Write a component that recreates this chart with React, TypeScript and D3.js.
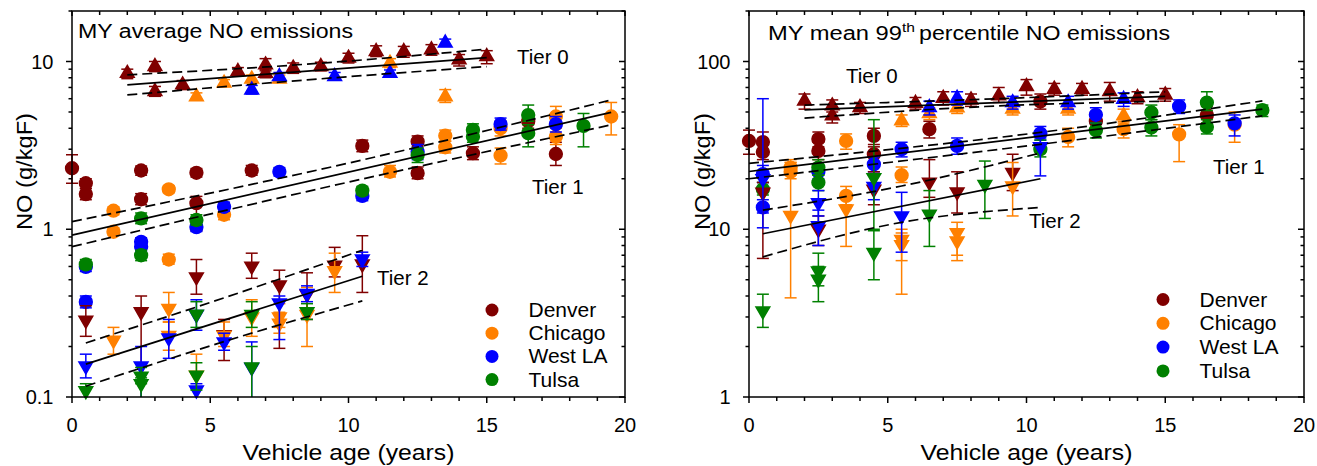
import * as d3 from "d3";

// [age, value, lower error, upper error]
type Pt = [number, number, number, number];
type Fit = { ages: number[]; fit: number[]; lo: number[]; hi: number[] };

const cities = ["Denver", "Chicago", "West LA", "Tulsa"];
const cityColors = ["#800000", "#ff8000", "#0000ff", "#008000"];
const ageTicks = [0, 5, 10, 15, 20];

// ---- MY average NO emissions (g/kgF) ----
const avgTier0: Pt[][] = [
  [
    [2, 8.5, 7.9, 9.0], [3, 9.33, 8.7, 10.0], [3, 6.62, 6.2, 7.1], [4, 7.26, 6.8, 7.7],
    [6, 8.72, 8.2, 9.2], [7, 9.55, 8.8, 10.4], [7, 8.5, 8.0, 9.0], [8, 9.13, 8.5, 9.8],
    [9, 9.33, 8.8, 9.9], [10, 10.47, 9.8, 11.2], [11, 11.47, 10.7, 12.4], [12, 11.47, 10.6, 12.3],
    [13, 11.75, 10.9, 12.6], [14, 10.23, 9.4, 11.0], [15, 10.7, 9.7, 11.6],
  ],
  [
    [4.5, 6.17, 5.9, 6.5], [5.5, 7.43, 7.1, 7.8], [6.5, 7.85, 7.5, 8.3], [7.5, 7.85, 7.5, 8.3],
    [11.5, 9.78, 9.2, 10.4], [13.5, 6.17, 5.7, 6.8],
  ],
  [
    [6.5, 6.77, 6.4, 7.2], [7.5, 8.14, 7.8, 8.6], [9.5, 8.14, 7.8, 8.6], [11.5, 8.5, 8.1, 8.9],
    [13.5, 12.9, 12.3, 13.6],
  ],
  [],
];

const avgTier1: Pt[][] = [
  [
    [0, 2.31, 1.88, 2.78], [0.5, 1.88, 1.75, 2.0], [0.5, 1.62, 1.5, 1.75], [2.5, 2.24, 2.1, 2.38],
    [2.5, 1.51, 1.4, 1.63], [4.5, 2.17, 2.05, 2.3], [4.5, 1.43, 0.98, 1.57], [6.5, 2.24, 2.1, 2.4],
    [10.5, 3.14, 2.9, 3.4], [12.5, 3.33, 3.1, 3.6], [12.5, 2.16, 2.0, 2.35], [14.5, 2.84, 2.6, 3.1],
    [16.5, 4.4, 4.0, 4.8], [17.5, 2.81, 2.4, 3.3],
  ],
  [
    [1.5, 1.29, 1.22, 1.36], [1.5, 0.966, 0.92, 1.02], [3.5, 1.73, 1.65, 1.82], [3.5, 0.66, 0.62, 0.71],
    [5.5, 1.22, 1.14, 1.3], [11.5, 2.2, 2.05, 2.4], [13.5, 3.61, 3.35, 3.9], [13.5, 3.08, 2.85, 3.35],
    [15.5, 4.0, 3.6, 4.4], [15.5, 2.75, 2.45, 3.05], [17.5, 4.7, 4.2, 5.4], [17.5, 3.56, 3.2, 4.0],
    [19.5, 4.7, 3.65, 5.7],
  ],
  [
    [0.5, 0.597, 0.56, 0.64], [0.5, 0.369, 0.34, 0.4], [2.5, 0.842, 0.8, 0.89], [2.5, 0.787, 0.74, 0.83],
    [4.5, 1.03, 0.97, 1.1], [5.5, 1.36, 1.28, 1.45], [7.5, 2.2, 2.08, 2.33], [10.5, 1.58, 1.48, 1.7],
    [12.5, 2.9, 2.6, 3.2], [15.5, 4.23, 3.9, 4.6], [17.5, 4.23, 3.8, 4.7],
  ],
  [
    [0.5, 0.617, 0.58, 0.66], [2.5, 1.16, 1.08, 1.25], [2.5, 0.7, 0.65, 0.75], [4.5, 1.135, 1.06, 1.22],
    [10.5, 1.7, 1.6, 1.8], [12.5, 2.77, 2.5, 3.05], [14.5, 3.91, 3.6, 4.25], [14.5, 3.56, 3.3, 3.85],
    [16.5, 4.79, 4.4, 5.5], [16.5, 3.74, 3.1, 4.2], [18.5, 4.13, 3.1, 4.9],
  ],
];

const avgTier2: Pt[][] = [
  [
    [0.5, 0.287, 0.23, 0.35], [2.5, 0.322, 0.1, 0.4], [4.5, 0.52, 0.41, 0.66], [5.5, 0.235, 0.165, 0.29],
    [6.5, 0.603, 0.51, 0.72], [7.5, 0.465, 0.195, 0.57], [8.5, 0.41, 0.29, 0.55], [9.5, 0.61, 0.52, 0.78],
    [10.5, 0.62, 0.42, 0.915],
  ],
  [
    [1.5, 0.218, 0.18, 0.26], [3.5, 0.337, 0.28, 0.42], [3.5, 0.233, 0.19, 0.28], [4.5, 0.135, 0.1, 0.18],
    [5.5, 0.233, 0.2, 0.28], [6.5, 0.3, 0.23, 0.38], [7.5, 0.3, 0.26, 0.36], [7.5, 0.275, 0.24, 0.32],
    [8.5, 0.31, 0.2, 0.45], [9.5, 0.565, 0.42, 0.72],
  ],
  [
    [0.5, 0.153, 0.13, 0.18], [2.5, 0.153, 0.1, 0.2], [3.5, 0.225, 0.17, 0.29], [4.5, 0.31, 0.25, 0.38],
    [4.5, 0.11, 0.1, 0.12], [5.5, 0.213, 0.19, 0.24], [6.5, 0.15, 0.1, 0.213], [7.5, 0.364, 0.22, 0.4],
    [8.5, 0.414, 0.37, 0.46], [10.5, 0.664, 0.6, 0.73],
  ],
  [
    [0.5, 0.109, 0.1, 0.12], [2.5, 0.133, 0.12, 0.15], [2.5, 0.12, 0.1, 0.13], [4.5, 0.312, 0.26, 0.37],
    [4.5, 0.135, 0.11, 0.16], [6.5, 0.31, 0.26, 0.37], [6.5, 0.151, 0.1, 0.2], [8.5, 0.322, 0.29, 0.36],
  ],
];

const avgFitTier0: Fit = { ages: [2, 8.5, 15], fit: [7.26, 10.56], lo: [6.32, 7.77, 9.33], hi: [8.33, 9.64, 11.85] };
const avgFitTier1: Fit = { ages: [0, 10, 19.5], fit: [0.923, 4.97], lo: [0.787, 1.91, 4.19], hi: [1.11, 2.48, 5.9] };
const avgFitTier2: Fit = { ages: [0.5, 5.5, 10.5], fit: [0.157, 0.525], lo: [0.116, 0.214, 0.374], hi: [0.21, 0.39, 0.75] };

// ---- MY mean 99th percentile NO emissions (g/kgF) ----
const p99Tier0: Pt[][] = [
  [
    [2, 58.2, 52, 64], [3, 54.4, 50, 59], [3, 47.4, 43, 52], [4, 53.2, 49, 57], [6, 56.4, 52, 61],
    [7, 60.4, 55, 66], [8, 59, 54, 64], [9, 62.4, 57, 70], [10, 71, 63, 78], [11, 68.4, 63, 74],
    [12, 68.4, 63, 74], [13, 66.2, 58, 75], [14, 61, 56, 66], [15, 63.2, 58, 69],
  ],
  [
    [5.5, 44.3, 41, 48], [6.5, 49, 45, 53], [7.5, 53, 49, 57], [9.5, 52, 48, 56], [11.5, 52, 48, 56],
    [13.5, 47.4, 43, 52],
  ],
  [
    [6.5, 53.2, 48, 58], [7.5, 60.4, 55, 66], [9.5, 56.9, 52, 62], [11.5, 56.9, 52, 62], [13.5, 59.6, 54, 65],
  ],
  [],
];

const p99Tier1: Pt[][] = [
  [
    [0, 33.6, 28, 39], [0.5, 33.1, 29, 38], [0.5, 28.9, 26, 32], [2.5, 34.5, 31, 38], [2.5, 29.3, 26, 33],
    [4.5, 36, 32, 40], [4.5, 28, 25, 31], [6.5, 39.5, 35, 44], [10.5, 57.7, 52, 64], [12.5, 44, 38, 50],
    [16.5, 48, 43, 54],
  ],
  [
    [1.5, 23.3, 21, 26], [1.5, 22, 20, 25], [3.5, 33.6, 30, 37], [3.5, 15.8, 14, 18], [5.5, 21, 19, 23.5],
    [11.5, 35.5, 31, 40], [13.5, 39.5, 35, 44], [15.5, 36.8, 25.3, 42], [17.5, 42, 33, 50],
  ],
  [
    [0.5, 13.5, 12.5, 15], [0.5, 21.3, 19, 24], [2.5, 22, 20, 24], [4.5, 24.4, 22, 27], [5.5, 30, 27, 33],
    [7.5, 31.4, 28, 35], [10.5, 37.2, 34, 41], [12.5, 48.1, 43, 53], [15.5, 54, 49, 59], [17.5, 42.8, 36, 48],
  ],
  [
    [0.5, 17.3, 16, 19], [2.5, 23.3, 21, 26], [2.5, 19, 17, 21], [10.5, 30, 27, 34], [12.5, 38.9, 35, 43],
    [14.5, 49.7, 45, 55], [14.5, 40.4, 36, 45], [16.5, 56.9, 51, 66], [16.5, 40.7, 37, 45], [18.5, 51.3, 47, 55],
  ],
];

const p99Tier2: Pt[][] = [
  [
    [0.5, 16.6, 6.7, 19], [2.5, 10, 8, 12], [4.5, 17.3, 14, 22], [6.5, 19.1, 15.5, 26], [7.5, 16.7, 12.5, 22],
    [9.5, 21.8, 17, 28],
  ],
  [
    [1.5, 12.1, 3.9, 25], [3.5, 13.2, 7.9, 16], [5.5, 8.7, 4.1, 10], [5.5, 8.1, 6.5, 9.5], [7.5, 9.55, 6.5, 11],
    [7.5, 8.5, 7, 10], [9.5, 18.1, 12, 25],
  ],
  [
    [0.5, 20, 10.2, 60], [2.5, 14.4, 12, 17], [2.5, 10.5, 8, 13], [4.5, 18, 15, 21], [5.5, 12, 7.3, 16.6],
    [10.5, 31, 20.8, 35],
  ],
  [
    [0.5, 3.26, 2.6, 4.1], [2.5, 5.64, 4.6, 7.2], [2.5, 5.03, 3.7, 6.0], [4.5, 20.3, 10, 45], [4.5, 7.26, 5.0, 9.8],
    [6.5, 12.3, 7.9, 17], [8.5, 18.5, 11.6, 25.5],
  ],
];

const p99FitTier0: Fit = { ages: [2, 8.5, 15], fit: [51.5, 62], lo: [46, 53.9, 58], hi: [55, 59.6, 66] };
const p99FitTier1: Fit = { ages: [0, 10.5, 18.5], fit: [22.1, 52], lo: [20.0, 32.1, 47.4], hi: [24.7, 37.8, 58.2] };
const p99FitTier2: Fit = { ages: [0.5, 5.5, 10.5], fit: [9.4, 20.0], lo: [6.84, 11.0, 13.5], hi: [13.0, 18.1, 28.5] };

const FONT = "'Liberation Sans', Arial, sans-serif";
const TOP = 11;
const BOTTOM = 397;
const tri = d3.symbol().type(d3.symbolTriangle).size(82)() as string;

function Marker({ shape, cx, cy, color }: { shape: number; cx: number; cy: number; color: string }) {
  if (shape === 1) return <circle cx={cx} cy={cy} r={6.4} fill={color} />;
  const rot = shape === 2 ? " rotate(180)" : "";
  return <path d={tri} transform={`translate(${cx},${cy})${rot}`} fill={color} />;
}

interface PanelProps {
  left: number;
  right: number;
  yDomain: [number, number];
  tiers: Pt[][][];
  fits: Fit[];
  tierLabels: { text: string; x: number; y: number }[];
  legendX: number;
  legendY: number;
  legendStep: number;
  yLabelX: number;
  title: JSX.Element;
}

function Panel(p: PanelProps) {
  const x = d3.scaleLinear().domain([0, 20]).range([p.left, p.right]);
  const y = d3.scaleLog().domain(p.yDomain).range([BOTTOM, TOP]);

  const majors: number[] = [];
  const minors: number[] = [];
  for (let e = -3; e <= 4; e++) {
    const d = Math.pow(10, e);
    for (let m = 1; m <= 9; m++) {
      const v = m * d;
      if (v < p.yDomain[0] * 0.999 || v > p.yDomain[1] * 1.001) continue;
      (m === 1 ? majors : minors).push(v);
    }
  }
  const xMinor = d3.range(1, 20).filter((v) => v % 5 !== 0);
  const fmt = (v: number) => (v < 1 ? v.toFixed(1) : String(Math.round(v)));

  const band = d3
    .line<[number, number]>()
    .x((d) => x(d[0]))
    .y((d) => y(d[1]))
    .curve(d3.curveMonotoneX);

  return (
    <g>
      {/* data */}
      {p.tiers.map((tier, ti) =>
        tier.map((pts, ci) => (
          <g key={`${ti}-${ci}`} stroke={cityColors[ci]} strokeWidth={1.5}>
            {pts.map((d, i) => {
              const cx = x(d[0]);
              const y0 = y(d[2]);
              const y1 = y(Math.min(d[3], p.yDomain[1]));
              const clipLo = d[2] <= p.yDomain[0];
              return (
                <g key={i}>
                  <line x1={cx} x2={cx} y1={clipLo ? BOTTOM : y0} y2={y1} />
                  {!clipLo && <line x1={cx - 6} x2={cx + 6} y1={y0} y2={y0} />}
                  <line x1={cx - 6} x2={cx + 6} y1={y1} y2={y1} />
                </g>
              );
            })}
            {pts.map((d, i) => (
              <Marker key={`m${i}`} shape={ti} cx={x(d[0])} cy={y(d[1])} color={cityColors[ci]} />
            ))}
          </g>
        ))
      )}

      {/* fits */}
      {p.fits.map((f, i) => (
        <g key={`f${i}`} fill="none" stroke="#000" strokeWidth={1.7}>
          <line x1={x(f.ages[0])} y1={y(f.fit[0])} x2={x(f.ages[2])} y2={y(f.fit[1])} />
          <path strokeDasharray="10,5" d={band(f.ages.map((a, k) => [a, f.lo[k]] as [number, number])) || ""} />
          <path strokeDasharray="10,5" d={band(f.ages.map((a, k) => [a, f.hi[k]] as [number, number])) || ""} />
        </g>
      ))}

      {/* frame & ticks */}
      <g stroke="#000" strokeWidth={1.5} fill="none">
        <rect x={p.left} y={TOP} width={p.right - p.left} height={BOTTOM - TOP} />
        {ageTicks.map((t) => (
          <g key={`xt${t}`}>
            <line x1={x(t)} x2={x(t)} y1={BOTTOM} y2={BOTTOM + 6} />
            <line x1={x(t)} x2={x(t)} y1={TOP} y2={TOP + 5} />
          </g>
        ))}
        {xMinor.map((t) => (
          <g key={`xm${t}`}>
            <line x1={x(t)} x2={x(t)} y1={BOTTOM} y2={BOTTOM + 4} />
            <line x1={x(t)} x2={x(t)} y1={TOP} y2={TOP + 4} />
          </g>
        ))}
        {majors.map((t) => (
          <g key={`yt${t}`}>
            <line x1={p.left - 6} x2={p.left} y1={y(t)} y2={y(t)} />
            <line x1={p.right - 6} x2={p.right} y1={y(t)} y2={y(t)} />
          </g>
        ))}
        {minors.map((t) => (
          <g key={`ym${t}`}>
            <line x1={p.left - 3.5} x2={p.left} y1={y(t)} y2={y(t)} />
            <line x1={p.right - 3.5} x2={p.right} y1={y(t)} y2={y(t)} />
          </g>
        ))}
      </g>

      <g fontFamily={FONT} fill="#000">
        {ageTicks.map((t) => (
          <text key={`xl${t}`} x={x(t)} y={432} fontSize={20} textAnchor="middle">
            {t}
          </text>
        ))}
        {majors.map((t) => (
          <text key={`yl${t}`} x={p.left - 18.5} y={y(t)} dy="0.36em" fontSize={20} textAnchor="end">
            {fmt(t)}
          </text>
        ))}
        <text x={(p.left + p.right) / 2} y={460} fontSize={22} textAnchor="middle" textLength={212} lengthAdjust="spacingAndGlyphs">
          Vehicle age (years)
        </text>
        <text
          transform={`translate(${p.yLabelX},171.5) rotate(-90)`}
          fontSize={22}
          textAnchor="middle"
          textLength={117}
          lengthAdjust="spacingAndGlyphs"
        >
          NO (g/kgF)
        </text>
        {p.title}
        {p.tierLabels.map((l) => (
          <text key={l.text} x={l.x} y={l.y} fontSize={20.5}>
            {l.text}
          </text>
        ))}
        {cities.map((c, i) => (
          <g key={c}>
            <circle cx={p.legendX} cy={p.legendY + i * p.legendStep} r={6.5} fill={cityColors[i]} />
            <text x={p.legendX + 36.5} y={p.legendY + i * p.legendStep + 7} fontSize={21}>
              {c}
            </text>
          </g>
        ))}
      </g>
    </g>
  );
}

export default function App() {
  return (
    <svg width={1317} height={466} style={{ position: "absolute", left: 0, top: 0, background: "#fff" }}>
      <rect width={1317} height={466} fill="#fff" />
      <Panel
        left={72}
        right={625}
        yDomain={[0.1, 20]}
        tiers={[avgTier0, avgTier1, avgTier2]}
        fits={[avgFitTier0, avgFitTier1, avgFitTier2]}
        tierLabels={[
          { text: "Tier 0", x: 517, y: 64 },
          { text: "Tier 1", x: 532, y: 194 },
          { text: "Tier 2", x: 377, y: 285 },
        ]}
        legendX={492}
        legendY={310}
        legendStep={23.2}
        yLabelX={32}
        title={
          <text x={78} y={37.5} fontSize={20} textLength={275} lengthAdjust="spacingAndGlyphs">
            MY average NO emissions
          </text>
        }
      />
      <Panel
        left={749}
        right={1304}
        yDomain={[1, 200]}
        tiers={[p99Tier0, p99Tier1, p99Tier2]}
        fits={[p99FitTier0, p99FitTier1, p99FitTier2]}
        tierLabels={[
          { text: "Tier 0", x: 846, y: 83 },
          { text: "Tier 1", x: 1213, y: 174 },
          { text: "Tier 2", x: 1029, y: 228 },
        ]}
        legendX={1163}
        legendY={299.5}
        legendStep={23.8}
        yLabelX={710}
        title={
          <g>
            <text x={768} y={40} fontSize={20} textLength={134} lengthAdjust="spacingAndGlyphs">
              MY mean 99
            </text>
            <text x={902} y={31.5} fontSize={13} textLength={13} lengthAdjust="spacingAndGlyphs">
              th
            </text>
            <text x={919} y={40} fontSize={20} textLength={251} lengthAdjust="spacingAndGlyphs">
              percentile NO emissions
            </text>
          </g>
        }
      />
    </svg>
  );
}
